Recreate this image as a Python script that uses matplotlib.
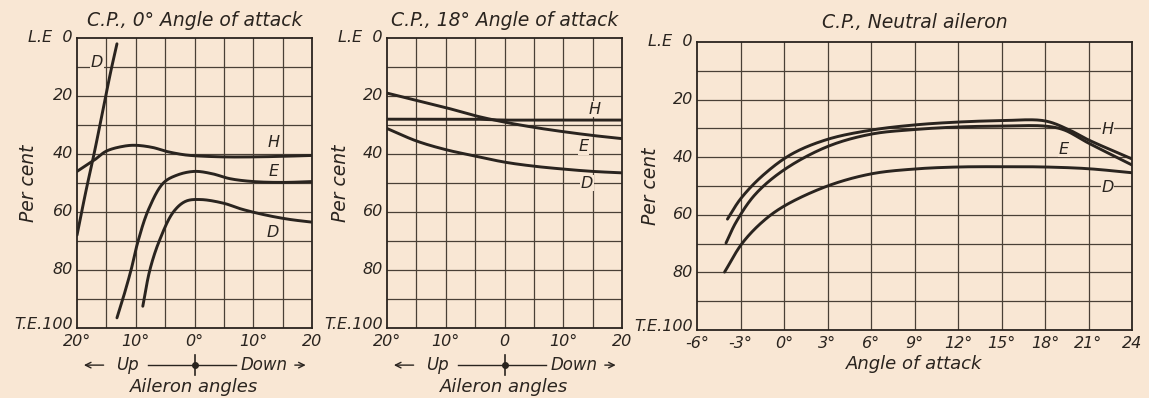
import matplotlib
matplotlib.use("Agg")
import matplotlib.pyplot as plt
import numpy as np
from matplotlib.transforms import blended_transform_factory, ScaledTranslation

BG = "#f9e7d4"
INK = "#2a241f"
GRID = "#4a4036"

# ---- Panel 1: C.P., 0 deg angle of attack (x: aileron angle, -20 = 20 deg up) ----
p1_D1_x = [-20, -18.5, -17, -15.5, -14.3, -13.2]
p1_D1_y = [68, 53, 39, 24, 12, 2]
p1_H_x = [-20, -17, -15, -12, -10, -7, -5, -2, 0, 5, 10, 15, 20]
p1_H_y = [46, 42, 39, 37.3, 37, 37.8, 39, 40.2, 40.6, 41, 41, 40.8, 40.5]
p1_E_x = [-13.2, -12.2, -10.8, -9.6, -7.8, -5.3, -3, 0, 3, 6, 10, 15, 20]
p1_E_y = [96.5, 90, 80, 70, 59, 50, 47.3, 46, 46.8, 48.5, 49.5, 49.8, 49.5]
p1_D2_x = [-8.8, -7.6, -6, -3.6, -1.5, 1, 5, 8, 12, 16, 20]
p1_D2_y = [92.5, 80, 70, 60, 56.3, 55.7, 57, 59, 61, 62.5, 63.5]

# ---- Panel 2: C.P., 18 deg angle of attack ----
p2_x = [-20, -15, -10, -5, 0, 5, 10, 15, 20]
p2_H = [28, 28, 28, 28, 28.3, 28.3, 28.3, 28.3, 28.3]
p2_E = [19, 21.5, 24, 26.8, 29, 30.8, 32.3, 33.6, 34.7]
p2_D = [31.2, 35.5, 38.5, 40.7, 42.8, 44.2, 45.2, 46, 46.5]

# ---- Panel 3: C.P., neutral aileron vs angle of attack ----
p3_H_x = [-3.9, -3.0, -1.5, 0.5, 3, 6, 9, 12, 15, 18, 19.7, 21, 24]
p3_H_y = [61.5, 54.5, 46.5, 39.0, 33.8, 30.6, 28.8, 27.8, 27.3, 27.4, 30.6, 34, 40.6]
p3_E_x = [-4.0, -3.3, -2.0, 0, 3, 6, 9, 12, 15, 18, 19.3, 21, 24]
p3_E_y = [69.8, 62.5, 53.0, 44.4, 36.3, 32, 30.4, 29.5, 29.2, 29.2, 30.5, 35.1, 42.7]
p3_D_x = [-4.1, -2.9, -1.5, 0, 3, 6, 9, 12, 15, 18, 21, 24]
p3_D_y = [79.9, 70, 62.5, 57, 50, 45.8, 44.1, 43.4, 43.3, 43.4, 44, 45.4]

aileron_ticks = [-20, -10, 0, 10, 20]
p1_xticklabels = ["20°", "10°", "0°", "10°", "20"]
p2_xticklabels = ["20°", "10°", "0", "10°", "20"]
aoa_ticks = [-6, -3, 0, 3, 6, 9, 12, 15, 18, 21, 24]
aoa_ticklabels = ["-6°", "-3°", "0°", "3°", "6°", "9°", "12°", "15°", "18°", "21°", "24"]
y_ticks = [0, 20, 40, 60, 80, 100]
y_ticklabels = ["L.E  0", "20", "40", "60", "80", "T.E.100"]

plt.rcParams['font.family'] = ['DejaVu Sans']
FS = 11.5      # tick labels
FS_T = 13.5    # titles
FS_L = 13      # axis labels
FS_C = 11.5    # curve letters
FS_UD = 12     # Up / Down

fig = plt.figure(figsize=(11.49, 3.98), dpi=100, facecolor=BG)


def smooth(x, y, sx, sy):
    """Centripetal Catmull-Rom through the given points (in pixel-scaled space)."""
    pts = np.column_stack([np.asarray(x, float) * sx, np.asarray(y, float) * sy])
    P = np.vstack([pts[0] * 2 - pts[1], pts, pts[-1] * 2 - pts[-2]])
    out = []
    for i in range(1, len(P) - 2):
        p0, p1, p2, p3 = P[i - 1], P[i], P[i + 1], P[i + 2]
        t0 = 0.0
        t1 = t0 + np.linalg.norm(p1 - p0) ** 0.5
        t2 = t1 + np.linalg.norm(p2 - p1) ** 0.5
        t3 = t2 + np.linalg.norm(p3 - p2) ** 0.5
        t = np.linspace(t1, t2, 25, endpoint=False)[:, None]
        A1 = (t1 - t) / (t1 - t0) * p0 + (t - t0) / (t1 - t0) * p1
        A2 = (t2 - t) / (t2 - t1) * p1 + (t - t1) / (t2 - t1) * p2
        A3 = (t3 - t) / (t3 - t2) * p2 + (t - t2) / (t3 - t2) * p3
        B1 = (t2 - t) / (t2 - t0) * A1 + (t - t0) / (t2 - t0) * A2
        B2 = (t3 - t) / (t3 - t1) * A2 + (t - t1) / (t3 - t1) * A3
        C = (t2 - t) / (t2 - t1) * B1 + (t - t1) / (t2 - t1) * B2
        out.append(C)
    out.append(pts[-1][None, :])
    out = np.vstack(out)
    return out[:, 0] / sx, out[:, 1] / sy


def setup(ax, xlim, xticks, xlabels, xgrid, ylab_x):
    ax.set_facecolor(BG)
    ax.set_xlim(*xlim)
    ax.set_ylim(100, 0)
    for xv in xgrid:
        ax.axvline(xv, color=GRID, lw=0.9, zorder=1)
    for yv in range(10, 100, 10):
        ax.axhline(yv, color=GRID, lw=0.9, zorder=1)
    for s in ax.spines.values():
        s.set_color(INK)
        s.set_linewidth(1.3)
    ax.set_yticks(y_ticks)
    ax.set_yticklabels(y_ticklabels, fontsize=FS, style='italic', color=INK)
    ax.set_xticks(xticks)
    ax.set_xticklabels(xlabels, fontsize=FS, style='italic', color=INK)
    ax.tick_params(axis='y', length=0, pad=3, colors=INK)
    ax.tick_params(axis='x', length=0, pad=4.5, colors=INK)
    for lbl in ax.get_yticklabels():
        lbl.set_verticalalignment('center')
    te = ax.get_yticklabels()[-1]
    te.set_verticalalignment('bottom')
    te.set_transform(te.get_transform() + ScaledTranslation(0, -4 / 100, fig.dpi_scale_trans))
    ax.set_ylabel("Per cent", fontsize=13.5, style='italic', color=INK)
    ax.yaxis.set_label_coords(ylab_x, 0.5)


def curve(ax, x, y, sx, sy):
    xs, ys = smooth(x, y, sx, sy)
    ax.plot(xs, ys, color=INK, lw=2.1, zorder=3, solid_capstyle='round')


def label(ax, x, y, s):
    ax.text(x, y, s, fontsize=FS_C, style='italic', color=INK, ha='center', va='center',
            zorder=4, bbox=dict(facecolor=BG, edgecolor='none', pad=0.5))


def updown(ax):
    tr = blended_transform_factory(ax.transData, ax.transAxes)
    yy = -0.128
    ax.annotate("", xy=(-19.3, yy), xytext=(-15.0, yy), xycoords=tr, textcoords=tr,
                arrowprops=dict(arrowstyle='->', color=INK, lw=1.0), annotation_clip=False)
    ax.text(-11.5, yy, "Up", transform=tr, fontsize=FS_UD, style='italic', color=INK,
            ha='center', va='center', clip_on=False)
    ax.plot([-8.0, 7.0], [yy, yy], transform=tr, color=INK, lw=1.0, clip_on=False)
    ax.plot([0], [yy], 'o', ms=4, color=INK, transform=tr, clip_on=False)
    ax.plot([0, 0], [yy - 0.035, yy + 0.035], transform=tr, color=INK, lw=1.2, clip_on=False)
    ax.text(11.8, yy, "Down", transform=tr, fontsize=FS_UD, style='italic', color=INK,
            ha='center', va='center', clip_on=False)
    ax.annotate("", xy=(19.4, yy), xytext=(16.6, yy), xycoords=tr, textcoords=tr,
                arrowprops=dict(arrowstyle='->', color=INK, lw=1.0), annotation_clip=False)
    ax.text(0, -0.205, "Aileron angles", transform=tr, fontsize=FS_L, style='italic',
            color=INK, ha='center', va='center', clip_on=False)


SX12, SY = 235 / 40, 2.9
SX3 = 435 / 30

# Panel 1
ax1 = fig.add_axes([77 / 1149, 70 / 398, 235 / 1149, 290 / 398])
setup(ax1, (-20, 20), aileron_ticks, p1_xticklabels, range(-15, 20, 5), -0.166)
curve(ax1, p1_D1_x, p1_D1_y, SX12, SY)
curve(ax1, p1_H_x, p1_H_y, SX12, SY)
curve(ax1, p1_E_x, p1_E_y, SX12, SY)
curve(ax1, p1_D2_x, p1_D2_y, SX12, SY)
label(ax1, -16.6, 8.5, "D")
label(ax1, 13.4, 36, "H")
label(ax1, 13.4, 46, "E")
label(ax1, 13.4, 67, "D")
ax1.set_title("C.P., 0° Angle of attack", fontsize=FS_T, style='italic', color=INK, pad=9)
updown(ax1)

# Panel 2
ax2 = fig.add_axes([387 / 1149, 70 / 398, 235 / 1149, 290 / 398])
setup(ax2, (-20, 20), aileron_ticks, p2_xticklabels, range(-15, 20, 5), -0.157)
curve(ax2, p2_x, p2_H, SX12, SY)
curve(ax2, p2_x, p2_E, SX12, SY)
curve(ax2, p2_x, p2_D, SX12, SY)
label(ax2, 15.4, 24.5, "H")
label(ax2, 13.4, 37.5, "E")
label(ax2, 14.0, 50, "D")
ax2.set_title("C.P., 18° Angle of attack", fontsize=FS_T, style='italic', color=INK, pad=9)
updown(ax2)

# Panel 3
ax3 = fig.add_axes([697 / 1149, 68 / 398, 435 / 1149, 288 / 398])
setup(ax3, (-6, 24), aoa_ticks, aoa_ticklabels, range(-3, 24, 3), -0.085)
curve(ax3, p3_H_x, p3_H_y, SX3, SY)
curve(ax3, p3_E_x, p3_E_y, SX3, SY)
curve(ax3, p3_D_x, p3_D_y, SX3, SY)
label(ax3, 22.3, 30.5, "H")
label(ax3, 19.3, 37.2, "E")
label(ax3, 22.3, 50.5, "D")
ax3.set_title("C.P., Neutral aileron", fontsize=FS_T, style='italic', color=INK, pad=10)
ax3.set_xlabel("Angle of attack", fontsize=FS_L, style='italic', color=INK, labelpad=3)

fig.savefig("out.png", dpi=100, facecolor=BG)
